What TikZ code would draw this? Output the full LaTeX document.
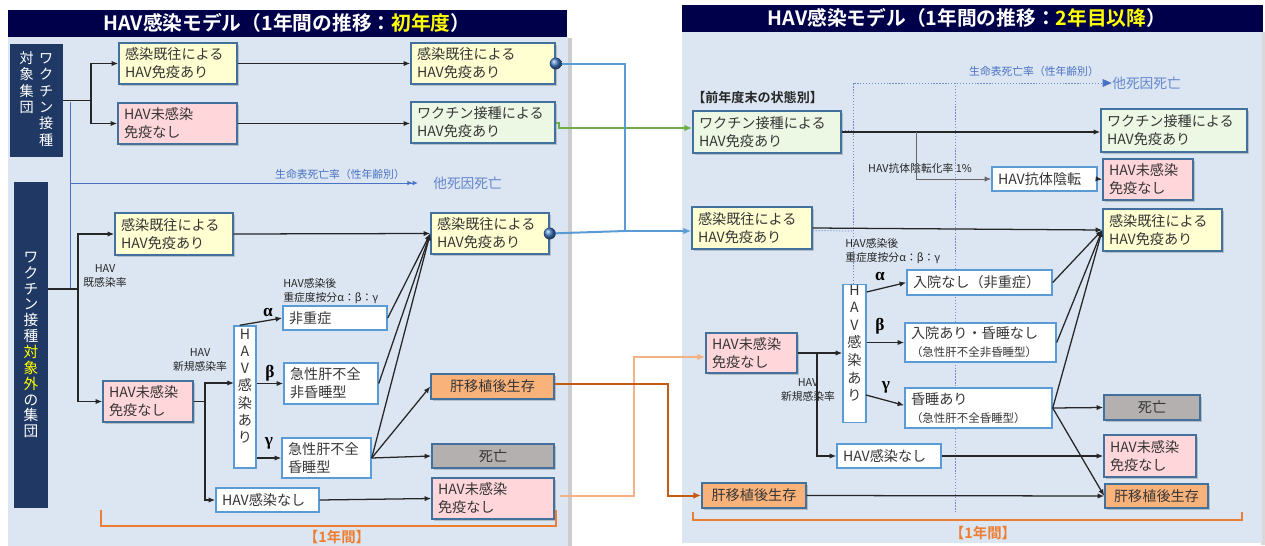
\documentclass[tikz,border=0pt]{standalone}
\usepackage{fontspec}
\setmainfont{Noto Sans CJK JP}[BoldFont={Noto Sans CJK JP Bold}]
\newfontfamily\jpit{Noto Sans CJK JP}[AutoFakeSlant=0.25]
\newfontfamily\grk{Liberation Serif}
\usetikzlibrary{arrows.meta,shadows,calc}
\definecolor{navy}{HTML}{00004A}
\definecolor{vnavy}{HTML}{1F3864}
\definecolor{panel}{HTML}{DCE6F2}
\definecolor{yel}{HTML}{FFFFD1}
\definecolor{pnk}{HTML}{FFD6D9}
\definecolor{grn}{HTML}{EDF8E4}
\definecolor{org}{HTML}{FAB27B}
\definecolor{gry}{HTML}{B4B0AF}
\definecolor{bdark}{HTML}{41719C}
\definecolor{bwhite}{HTML}{5B9BD5}
\definecolor{blu}{HTML}{5B9BD5}
\definecolor{dth}{HTML}{4A72C4}
\definecolor{grnl}{HTML}{70AD47}
\definecolor{lorg}{HTML}{F4B183}
\definecolor{dorg}{HTML}{C55A11}
\definecolor{brk}{HTML}{ED7D31}
\definecolor{ttly}{HTML}{FFFF00}
\definecolor{txt}{HTML}{363636}
\definecolor{sph}{HTML}{3F78C0}
\tikzset{
  sz/.style 2 args={minimum width=#1*0.75pt, minimum height=#2*0.75pt},
  bx/.style 2 args={rectangle, sz={#1}{#2}, /utils/exec={\pgfmathsetlengthmacro\bxw{#1*0.75pt-9pt}},
    text width=\bxw, inner xsep=4.5pt, inner ysep=1pt, align=left,
    font=\fontsize{10.6}{13.4}\selectfont, text=txt},
  cbx/.style={draw=bdark, line width=1.1pt, drop shadow={shadow xshift=1.2pt, shadow yshift=-1.2pt, opacity=0.4}},
  ybox/.style={cbx, fill=yel},
  pbox/.style={cbx, fill=pnk},
  gbox/.style={cbx, fill=grn},
  obox/.style={cbx, fill=org},
  dbox/.style={cbx, fill=gry},
  wbox/.style={draw=bwhite, line width=1.1pt, fill=white},
  ctr/.style={align=center},
  vtxt/.style={rectangle, inner sep=0pt, align=center, font=\fontsize{10.6}{12.8}\selectfont, text=txt},
  arr/.style={draw=black!85, line width=0.95pt, -{Latex[length=5pt,width=4pt]}},
  ln/.style={draw=black!85, line width=0.95pt},
  lab/.style={font=\jpit\fontsize{8.1}{9.8}\selectfont, text=black!85, align=center, inner sep=0pt},
  grkl/.style={font=\grk\bfseries\fontsize{13}{14}\selectfont, inner sep=0pt},
  dl/.style={draw=dth, line width=0.7pt},
  dot/.style={draw=dth!80, line width=0.55pt, dash pattern=on 1pt off 1.2pt},
  dlab/.style={font=\jpit\fontsize{8.1}{9.8}\selectfont, text=dth, inner sep=0pt},
  oth/.style={font=\fontsize{10.3}{12}\selectfont, text=dth!85, inner sep=0pt},
  bl/.style={draw=blu, line width=1.5pt},
  brkl/.style={draw=brk, line width=1.4pt},
  brkt/.style={font=\bfseries\fontsize{10.8}{12}\selectfont, text=brk, inner sep=0pt},
  ttl/.style={font=\bfseries\fontsize{14.8}{17}\selectfont, text=white, inner sep=0pt},
}
\begin{document}
\begin{tikzpicture}[x=0.75pt,y=-0.75pt]
\useasboundingbox (0,0) rectangle (1265,546);
% panels
\fill[gray!40] (567,38) rectangle (572,546);
\fill[panel] (8,37) rectangle (568,546);
\fill[navy] (8,10) rectangle (567,37);
\fill[gray!30] (1261,32) rectangle (1265,545);
\fill[panel] (682,32) rectangle (1262,543);
\fill[navy] (682,5) rectangle (1263,32);
\node[ttl] (TL) at (287,23) {HAV感染モデル（1年間の推移：\textcolor{ttly}{初年度}）};
\node[ttl] (TR) at (967,18) {HAV感染モデル（1年間の推移：\textcolor{ttly}{2年目以降}）};

% dotted death lines (right panel), drawn first
\coordinate (dA) at (853,83);
\coordinate (dB) at (955,83);
\coordinate (dC) at (853,290);
\coordinate (dD) at (955,512);
\coordinate (dE) at (1103,83);
\draw[dot] (dC) -- (dA) -- (dE);
\draw[dth, fill=dth] (dE) ++(0,-3.5) -- ++(8,3.5) -- ++(-8,3.5) -- cycle;
\draw[dot] (dB) -- (dD);
\node[oth, anchor=west] (OTH2) at (1112,83) {他死因死亡};
\node[dlab] (LT2) at (1034,71) {生命表死亡率（性年齢別）};

% ---------- left panel nodes ----------
\node[rectangle, fill=vnavy, sz={53}{113}, inner sep=0pt, text=white, font=\fontsize{10.6}{11.7}\selectfont] (VT) at (36.5,100.5)
  {\begin{tabular}{@{}c@{\hspace{4pt}}c@{}}対&ワ\\象&ク\\集&チ\\団&ン\\ &接\\ &種\end{tabular}};
\node[rectangle, fill=vnavy, sz={34}{326}, inner sep=0pt, text=white, align=center, font=\fontsize{11}{11.9}\selectfont] (VB) at (31,345)
  {ワ\\ク\\チ\\ン\\接\\種\\\textcolor{ttly}{対}\\\textcolor{ttly}{象}\\\textcolor{ttly}{外}\\の\\集\\団};

\node[ybox, bx={118}{41}] (A1) at (178,63.5) {感染既往による\\HAV免疫あり};
\node[pbox, bx={119}{41}] (A2) at (177.5,123.5) {HAV未感染\\免疫なし};
\node[ybox, bx={144}{41}] (B1) at (483,63.5) {感染既往による\\HAV免疫あり};
\node[gbox, bx={144}{41}] (B2) at (483,122.5) {ワクチン接種による\\HAV免疫あり};

\node[ybox, bx={118}{42}] (C1) at (174,234) {感染既往による\\HAV免疫あり};
\node[pbox, bx={90}{41}] (C2) at (148,401.5) {HAV未感染\\免疫なし};
\node[wbox, vtxt, sz={22}{142}] (H1) at (245,397) {H\\A\\V\\感\\染\\あ\\り\\[4pt]};
\node[wbox, bx={104}{24}] (N1) at (335,318) {非重症};
\node[wbox, bx={94}{41}] (N2) at (331,383.5) {急性肝不全\\非昏睡型};
\node[wbox, bx={89}{40}] (N3) at (326.5,458) {急性肝不全\\昏睡型};
\node[wbox, bx={103}{24}] (N4) at (267.5,500) {HAV感染なし};
\node[ybox, bx={118}{41}] (C3) at (490,233.5) {感染既往による\\HAV免疫あり};
\node[obox, bx={123}{25}, ctr] (T1) at (492.5,386.5) {肝移植後生存};
\node[dbox, bx={122}{24}, ctr] (D1) at (493,456) {死亡};
\node[pbox, bx={122}{41}] (P1) at (493,498.5) {HAV未感染\\免疫なし};

% left labels
\node[lab] (L1) at (105,276) {HAV\\既感染率};
\node[lab] (L2) at (200,360) {HAV\\新規感染率};
\node[lab, anchor=west, align=left] (L3) at (283,291) {HAV感染後\\重症度按分α：β：γ};
\node[grkl] (al1) at (268,312) {α};
\node[grkl] (be1) at (270,373) {β};
\node[grkl] (ga1) at (269,443) {γ};
\node[dlab] (LT1) at (340,174) {生命表死亡率（性年齢別）};
\node[oth, anchor=west] (OTH1) at (433,183) {他死因死亡};

% left connectors
\coordinate (j1) at (91,100.5);
\draw[ln] (VT.east) -- (j1);
\draw[arr] (j1) |- (A1.west);
\draw[arr] (j1) |- (A2.west);
\draw[arr] (A1.east) -- (B1.west);
\draw[arr] (A2.east) -- (B2.west |- A2.east);
% death line left
\coordinate (k0) at (70,102);
\coordinate (k1) at (70,288);
\coordinate (k2) at (60,288);
\coordinate (k3) at (70,183);
\coordinate (k4) at (418,183);
\draw[dl] (k0) -- (k1) -- (k2);
\draw[dl, -{Latex[length=4pt,width=3.5pt]Latex[length=4pt,width=3.5pt]}] (k3) -- (k4);

\coordinate (j2) at (78,289);
\draw[ln] (VB.east |- j2) -- (j2);
\draw[arr] (j2) |- (C1.west);
\draw[arr] (j2) |- (C2.west);
\coordinate (j3) at (205,401.5);
\coordinate (h1in) at (234,383);
\draw[ln] (C2.east) -- (j3);
\draw[arr] (j3) |- (h1in);
\draw[arr] (j3) |- (N4.west);
\draw[arr] ([xshift=-4pt]H1.north) -- (N1.west);
\draw[arr] (H1.east |- N2.west) -- (N2.west);
\draw[arr] (H1.east |- N3.west) -- (N3.west);
\draw[arr] (C1.east) -- (C3.west);
\draw[arr] (N1.east) -- (C3.west);
\draw[arr] (N2.east) -- (C3.west);
\draw[arr] (N3.east) -- (C3.west);
\draw[arr] (N3.east) -- (T1.west);
\draw[arr] (N3.east) -- (D1.west);
\draw[arr] (N4.east) -- (P1.west);

% brackets
\coordinate (b1) at (101,510);
\coordinate (b2) at (556,510);
\draw[brkl] (b1) -- (101,526) -- (556,526) -- (b2);
\node[brkt] (BT1) at (337,537) {【1年間】};
\coordinate (b3) at (693,512);
\coordinate (b4) at (1242,512);
\draw[brkl] (b3) -- (693,520) -- (1242,520) -- (b4);
\node[brkt] (BT2) at (983,533) {【1年間】};

% ---------- right panel nodes ----------
\node[font=\bfseries\fontsize{9.8}{12}\selectfont, anchor=west, inner sep=0pt, text=black!85] (HDR) at (692,98) {【前年度末の状態別】};
\node[gbox, bx={148}{42}] (R1) at (767,132) {ワクチン接種による\\HAV免疫あり};
\node[ybox, bx={120}{42}] (R2) at (752,228) {感染既往による\\HAV免疫あり};
\node[pbox, bx={91}{40}] (R3) at (751.5,353) {HAV未感染\\免疫なし};
\node[obox, bx={104}{25}, ctr] (R4) at (754,495.5) {肝移植後生存};
\node[wbox, vtxt, sz={23}{129}, font=\fontsize{10.6}{13.2}\selectfont] (H2) at (854.5,353.5) {H\\A\\V\\感\\染\\あ\\り\\[3pt]};
\node[wbox, bx={145}{25}] (M1) at (979.5,282.5) {入院なし（非重症）};
\node[wbox, bx={151}{39}] (M2) at (980.5,342.5) {入院あり・昏睡なし\\{\fontsize{8.6}{10}\selectfont （急性肝不全非昏睡型）}};
\node[wbox, bx={147}{40}] (M3) at (978.5,408) {昏睡あり\\{\fontsize{8.6}{10}\selectfont （急性肝不全昏睡型）}};
\node[wbox, bx={104}{24}] (M4) at (889,456) {HAV感染なし};
\node[wbox, bx={105}{24}] (AB) at (1044.5,179) {HAV抗体陰転};
\node[gbox, bx={146}{43}] (R5) at (1174,130.5) {ワクチン接種による\\HAV免疫あり};
\node[pbox, bx={90}{41}] (R6) at (1148,179.5) {HAV未感染\\免疫なし};
\node[ybox, bx={119}{42}] (R7) at (1162.5,230) {感染既往による\\HAV免疫あり};
\node[dbox, bx={96}{25}, ctr] (RD) at (1152,407.5) {死亡};
\node[pbox, bx={92}{42}] (R8) at (1150,456) {HAV未感染\\免疫なし};
\node[obox, bx={103}{24}, ctr] (R9) at (1156.5,496) {肝移植後生存};

% right labels
\node[lab] (L4) at (920,168) {HAV抗体陰転化率 1\%};
\node[lab, anchor=west, align=left] (L5) at (845,251) {HAV感染後\\重症度按分α：β：γ};
\node[lab] (L6) at (808,390) {HAV\\新規感染率};
\node[grkl] (al2) at (880,276) {α};
\node[grkl] (be2) at (880,326) {β};
\node[grkl] (ga2) at (886,387) {γ};

% right connectors
\draw[dot] ([yshift=1.5pt]R1.east) -- (853,130);
\draw[dot] ([yshift=-2pt]R2.east) -- (853,231);
\draw[arr] (R1.east) -- (R5.west |- R1.east);
\coordinate (k5) at (916,132);
\draw[draw=black!60, line width=0.7pt, -{Latex[length=5pt,width=4pt]}] (k5) |- (AB.west);
\draw[arr] (AB.east) -- (R6.west);
\draw[arr] (R2.east) -- (R7.west);
\draw[arr] (R3.east) -- (H2.west |- R3.east);
\coordinate (k6) at (817,353);
\draw[arr] (k6) |- (M4.west);
\draw[arr] ([yshift=-6pt]H2.north east) -- (M1.west);
\draw[arr] (H2.east |- M2.west) -- (M2.west);
\coordinate (k7) at (866,395);
\draw[arr] (k7) -- ([yshift=2pt]M3.west);
\draw[arr] (M1.east) -- (R7.west);
\draw[arr] (M2.east) -- (R7.west);
\draw[arr] (M3.east) -- (R7.west);
\draw[arr] (M3.east) -- (RD.west);
\draw[arr] (M3.east) -- (R9.west);
\draw[arr] (M4.east) -- (R8.west);
\draw[arr] (R4.east) -- (R9.west);

% inter-panel connectors
\coordinate (g1) at (559,122.5);
\coordinate (g2) at (559,128);
\draw[draw=grnl, line width=1.5pt, -{Latex[length=6pt,width=5pt]}] (B2.east) -- (g1) -- (g2) -- (R1.west |- g2);
\coordinate (bj) at (625,231);
\draw[bl] (B1.east) -| (bj);
\draw[bl] (C3.east) -- (bj);
\draw[bl, -{Latex[length=6pt,width=5pt]}] (bj) -- (R2.west |- bj);
\shade[ball color=sph] (B1.east) circle (6);
\shade[ball color=sph] (C3.east) circle (6);
\coordinate (lo1) at (634,496);
\coordinate (lo2) at (634,357);
\draw[draw=lorg, line width=1.5pt, -{Latex[length=6pt,width=5pt]}] ([xshift=4pt]P1.east |- lo1) -- (lo1) -- (lo2) -- (R3.west |- lo2);
\coordinate (do1) at (668,384);
\coordinate (do2) at (668,495.5);
\draw[draw=dorg, line width=1.5pt, -{Latex[length=6pt,width=5pt]}] (T1.east |- do1) -- (do1) -- (do2) -- (R4.west);
\end{tikzpicture}
\end{document}
